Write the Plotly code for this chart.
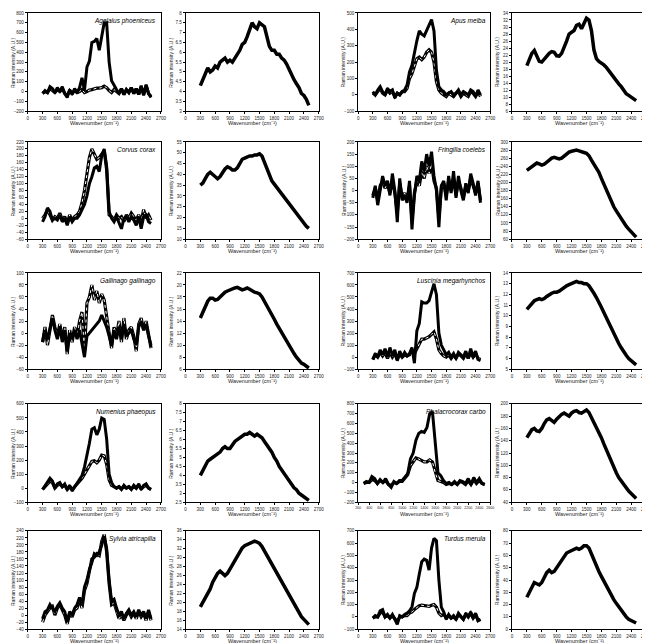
import plotly.graph_objects as go

# wavenumber grid (cm-1) shared by all spectra
WN = [300, 350, 400, 450, 500, 550, 600, 650, 700, 750, 800, 850, 900, 950, 1000,
      1050, 1100, 1150, 1200, 1250, 1300, 1350, 1400, 1450, 1500, 1550, 1600, 1650,
      1700, 1750, 1800, 1850, 1900, 1950, 2000, 2050, 2100, 2150, 2200, 2250, 2300,
      2350, 2400, 2450, 2500]

SPECIES = ["Agelaius phoeniceus", "Apus melba", "Corvus corax", "Fringilla coelebs",
           "Gallinago gallinago", "Luscinia megarhynchos", "Numenius phaeopus",
           "Phalacrocorax carbo", "Sylvia atricapilla", "Turdus merula"]

# --- Agelaius phoeniceus
ag_a = [-20, 10, -10, 50, 30, -10, 40, 0, 50, -20, -60, 20, -30, 30, -10, 40, 140, 10, 250, 310,
        500, 510, 540, 420, 560, 700, 700, 300, 110, 60, 20, -20, 30, -30, 20, -10, 40, -20, 30,
        -30, 60, -40, 70, -20, -60]
ag_b = [-20, 0, -10, 30, 10, -10, 20, 0, 30, -20, -40, 10, -20, 10, -10, 0, 20, -10, 0, 15,
        20, 30, 35, 35, 40, 55, 40, 10, -10, 20, 0, -20, 30, -30, 20, -10, 40, -20, 30, -30,
        50, -30, 60, -20, -50]
ag_bg = [4.3, 4.6, 4.9, 5.2, 5.0, 5.1, 5.3, 5.2, 5.5, 5.6, 5.7, 5.5, 5.6, 5.5, 5.7, 5.9, 6.1,
         6.4, 6.5, 6.8, 7.1, 7.5, 7.3, 7.2, 7.5, 7.4, 7.3, 6.8, 6.3, 6.1, 6.1, 5.9, 5.9, 5.7,
         5.6, 5.4, 5.1, 4.9, 4.6, 4.4, 4.2, 3.9, 3.8, 3.6, 3.3]

# --- Apus melba
ap_a = [20, 0, 30, 50, 20, 0, 40, 20, 30, -20, 10, 0, 20, 30, 60, 140, 180, 260, 330, 390,
        370, 360, 390, 430, 460, 390, 150, 50, 30, 20, 0, 10, 20, 0, 10, 30, 0, 20, 10, 0,
        30, 20, -10, 30, 0]
ap_b = [10, 0, 20, 40, 10, 0, 30, 10, 20, -10, 10, 0, 20, 20, 40, 100, 130, 170, 220, 230,
        215, 230, 260, 275, 260, 200, 80, 30, 10, 0, -10, 10, 0, -10, 10, 20, -10, 10, 0,
        -10, 20, 10, -10, 20, -10]
ap_bg = [19, 20.5, 22.5, 23.3, 21.5, 20.2, 20, 20.8, 21.8, 22.5, 23, 22.8, 21.8, 21.7, 22.5,
         24, 26, 28, 28.5, 29, 30.5, 30.8, 29.5, 31, 32.5, 32, 29, 23.5, 21, 20.2, 19.8, 19.2,
         18.5, 17.5, 16.5, 15.5, 14.5, 13.8, 13, 12, 11, 10.5, 10, 9.5, 9]

# --- Corvus corax
co_a = [0, 10, 25, 10, -5, 5, 0, 15, -5, 5, -15, 10, -5, 5, 10, 20, 45, 80, 130, 175, 200,
        185, 170, 175, 185, 195, 140, 10, 5, -5, 10, 0, 5, -10, 10, 0, 15, 5, -5, 10, -10, 25,
        0, 10, -5]
co_b = [-10, 5, 30, 20, -5, 0, -5, 10, -10, 0, -20, 5, -10, 0, 0, 10, 25, 40, 65, 100, 120,
        145, 150, 135, 180, 200, 150, 20, 0, -10, 5, -15, -30, 0, 5, -10, 5, -5, -20, 5, -30,
        5, 10, -10, -15]
co_bg = [35, 36, 38, 40, 41, 40, 38.5, 38, 39, 41, 42.5, 43.5, 43, 42, 42, 43, 45, 47, 47.5,
         48, 48.5, 48.5, 49, 49, 49.5, 48.5, 45.5, 42, 39, 37, 35.5, 34, 32.5, 31, 29.5, 28,
         26.5, 25, 23, 21.5, 20, 18.5, 17, 16, 15]

# --- Fringilla coelebs
fr_a = [-30, 20, -60, 10, 60, 20, 40, -20, 70, 0, -130, 50, -40, -20, -50, 40, -160, -20, 60,
        40, 120, 80, 150, 100, 160, 60, 0, -150, 20, 40, -40, 60, -10, 80, -30, 60, 0, -40,
        30, -10, 70, 30, -20, 40, -50]
fr_b = [-20, 10, -40, 20, 40, 10, 30, -10, 40, -10, -90, 30, -30, -10, -40, 20, -120, -10,
        40, 20, 80, 50, 100, 70, 110, 40, 10, -110, 10, 30, -20, 40, 0, 50, -20, 40, 10, -30,
        20, 0, 50, 20, -10, 30, -40]
fr_bg = [230, 235, 240, 245, 248, 246, 243, 245, 250, 255, 260, 262, 260, 258, 260, 265, 270,
         275, 277, 278, 280, 278, 275, 274, 272, 266, 255, 245, 235, 225, 210, 195, 180, 165,
         150, 140, 130, 120, 110, 100, 92, 85, 78, 72, 65]

# --- Gallinago gallinago
ga_a = [-15, 10, -20, 5, 30, 10, -5, 15, -10, 10, -35, 5, -15, 10, -5, 20, 35, -30, 50, 60,
        80, 55, 70, 50, 65, 55, 25, 0, -25, 10, -5, 20, -15, 25, -10, 5, 10, -5, -30, 15, 25,
        5, 20, -5, -25]
ga_b = [-15, 5, -10, 10, 25, 5, -10, 10, -15, 5, -30, 0, -10, 5, -10, 5, -15, -40, -5, 0, 5,
        10, 15, 20, 30, 20, 10, -5, -20, 5, -10, 10, -10, 15, -5, 0, 5, -10, -20, 10, 20, 5,
        15, -5, -20]
ga_bg = [14.5, 15.5, 16.5, 17.3, 17.8, 17.8, 17.5, 17.6, 18.0, 18.5, 18.8, 19.0, 19.2, 19.3,
         19.5, 19.6, 19.4, 19.2, 19.3, 19.5, 19.3, 19.0, 18.8, 18.7, 18.5, 18.0, 17.3, 16.5,
         15.8, 15.0, 14.3, 13.5, 12.8, 12.0, 11.3, 10.5, 9.8, 9.2, 8.6, 8.0, 7.5, 7.0, 6.8,
         6.5, 6.2]

# --- Luscinia megarhynchos
lu_a = [-20, 30, 0, 60, 20, 70, 0, 80, 10, 60, -30, 50, 0, 40, 10, 30, 80, -50, 220, 280,
        460, 450, 450, 470, 540, 610, 520, 200, 100, 60, 20, 40, 0, 30, -10, 40, 20, 0, 50,
        -10, 70, 0, 50, -20, -30]
lu_b = [-20, 20, 0, 40, 10, 40, -10, 40, 0, 30, -20, 30, 0, 20, 10, 20, 60, 30, 70, 110,
        150, 150, 160, 170, 190, 210, 150, 60, 30, 10, 0, 20, -10, 20, -10, 30, 10, -10, 30,
        -10, 40, 0, 30, -10, -20]
lu_bg = [10.6, 10.9, 11.2, 11.4, 11.5, 11.6, 11.5, 11.6, 11.8, 12.0, 12.1, 12.2, 12.2, 12.3,
         12.5, 12.7, 12.8, 12.9, 13.0, 13.1, 13.2, 13.1, 13.1, 13.0, 13.0, 12.8, 12.5, 12.1,
         11.7, 11.3, 10.8, 10.3, 9.8, 9.3, 8.8, 8.3, 7.8, 7.4, 7.0, 6.6, 6.3, 6.0, 5.8, 5.6,
         5.4]

# --- Numenius phaeopus
nu_a = [-10, 20, 40, 70, 50, 0, 30, 40, 10, 30, -10, 20, -20, 10, 30, 60, 90, 150, 230, 320,
        420, 430, 380, 420, 500, 490, 350, 100, 40, 10, 0, 10, -10, 20, 0, 10, -10, 20, 0, 30,
        -10, 20, 30, 0, -10]
nu_b = [-10, 10, 30, 50, 40, 0, 20, 30, 10, 20, -10, 10, -10, 10, 30, 50, 70, 100, 130, 160,
        190, 195, 180, 200, 235, 230, 170, 60, 20, 10, 0, 10, -5, 10, 0, 10, -5, 10, 0, 20,
        -5, 10, 20, 0, -10]
nu_bg = [4.0, 4.3, 4.6, 4.8, 4.9, 5.0, 5.1, 5.2, 5.3, 5.5, 5.6, 5.5, 5.5, 5.7, 5.9, 6.0,
         6.1, 6.2, 6.3, 6.3, 6.4, 6.3, 6.2, 6.3, 6.2, 6.1, 5.9, 5.7, 5.5, 5.3, 5.0, 4.8, 4.5,
         4.3, 4.1, 3.9, 3.7, 3.5, 3.3, 3.2, 3.0, 2.9, 2.8, 2.7, 2.6]

# --- Phalacrocorax carbo
ph_a = [-10, 10, 0, 60, 40, -10, 30, 0, 40, -20, -50, 10, -10, 20, 20, 60, 90, 240, 300,
        430, 500, 520, 510, 560, 700, 720, 420, 100, 70, 20, -10, 0, -20, 10, -20, 20, 10,
        -10, 40, -20, 50, 0, 40, -10, -20]
ph_b = [-10, 0, 0, 30, 20, -10, 20, 0, 20, -20, -30, 0, -10, 10, 10, 40, 80, 170, 210, 250,
        240, 220, 210, 210, 230, 210, 100, 20, 10, 0, -20, -10, -20, 0, -20, 10, 0, -20, 20,
        -20, 30, -10, 20, -10, -20]
ph_bg = [145, 152, 158, 160, 156, 155, 160, 168, 174, 176, 172, 170, 175, 180, 183, 185, 183,
         180, 185, 188, 189, 186, 185, 188, 190, 186, 178, 170, 162, 155, 145, 135, 125, 115,
         105, 95, 88, 80, 74, 68, 63, 58, 54, 50, 46]

# --- Sylvia atricapilla
sy_a = [-10, 10, 15, 30, 20, 10, 25, 35, 20, 10, -20, 10, 0, 20, 30, 50, 30, 80, 100, 130,
        150, 175, 170, 180, 200, 225, 190, 100, 40, 45, 20, 0, 10, -10, 5, 15, 0, 10, -5, 15,
        0, 10, -10, 15, -10]
sy_b = [-20, 0, 10, 20, 25, 0, 20, 30, 15, 0, -25, 5, -5, 15, 20, 45, 20, 70, 90, 120, 160,
        165, 175, 170, 210, 230, 180, 90, 30, 35, 10, -10, 0, -15, 0, 10, -5, 5, -10, 10, -5,
        5, -15, 10, -15]
sy_bg = [19, 20, 21, 22, 23, 24.5, 25.5, 26.5, 27, 26.5, 26, 26.5, 27.5, 28.5, 29.5, 30.5,
         31.5, 32.2, 32.7, 33, 33.2, 33.5, 33.7, 33.5, 33.2, 32.5, 31.5, 30.5, 29.5, 28.5,
         27.5, 26.5, 25.5, 24.5, 23.5, 22.5, 21.5, 20.5, 19.5, 18.5, 17.5, 16.8, 16.2, 15.5, 15]

# --- Turdus merula
tu_a = [-10, 10, 0, 50, 60, 0, 20, -10, 20, -20, -60, 10, 0, 20, 30, 50, 80, 190, 240, 350,
        450, 470, 460, 380, 560, 640, 620, 300, 80, 40, -20, 20, -10, 10, -20, 30, 0, -20, 30,
        0, 40, -10, 30, -30, -20]
tu_b = [-10, 0, 0, 30, 40, 0, 10, -10, 10, -20, -40, 0, 0, 10, 10, 30, 40, 60, 75, 90, 95,
        90, 85, 85, 95, 100, 80, 30, 10, 20, -10, 10, -10, 0, -20, 20, 0, -20, 20, 0, 30, -10,
        20, -30, -20]
tu_bg = [26, 30, 34, 38, 37, 36, 38, 42, 46, 48, 46, 47, 50, 54, 57, 60, 62, 63, 64, 65, 66,
         65, 66, 68, 68, 66, 61, 56, 51, 47, 43, 39, 35, 31, 27, 24, 21, 18, 15, 13, 10, 8, 7,
         6, 5]

# difference spectra (left panel of each pair) and backgrounds (right panel)
DIFF = [(ag_a, ag_b), (ap_a, ap_b), (co_b, co_a), (fr_a, fr_b), (ga_b, ga_a),
        (lu_a, lu_b), (nu_a, nu_b), (ph_a, ph_b), (sy_a, sy_b), (tu_a, tu_b)]
BACK = [ag_bg, ap_bg, co_bg, fr_bg, ga_bg, lu_bg, nu_bg, ph_bg, sy_bg, tu_bg]

# y axis (min, max, step) for each panel
Y_DIFF = [(-200, 800, 100), (-100, 500, 100), (-60, 220, 20), (-200, 200, 50),
          (-60, 100, 20), (-100, 700, 100), (-100, 600, 100), (-200, 800, 100),
          (-40, 240, 20), (-100, 700, 100)]
Y_BACK = [(3, 8, 0.5), (6, 34, 2), (10, 55, 5), (60, 300, 20), (6, 22, 2),
          (5, 14, 1), (2.5, 8, 0.5), (40, 200, 20), (14, 36, 2), (0, 80, 10)]

W, H = 650, 643
COLS = [(17, 152), (177, 312), (352, 486), (508, 644)]
ROWS = [(3, 102), (133, 231), (265, 362), (397, 496), (525, 624)]
FONT = "Liberation Sans"

fig = go.Figure()
layout = {}
notes = []


def add_axes(n, col, row, yr, xr=(0, 2700, 300), xfont=4.5):
    x0, x1 = COLS[col]
    y0, y1 = ROWS[row]
    sfx = "" if n == 1 else str(n)
    common = dict(showline=True, linecolor="black", linewidth=1, mirror=True,
                  ticks="outside", ticklen=2, tickwidth=0.8, tickcolor="black",
                  showgrid=False, zeroline=False, tickangle=0)
    layout["xaxis" + sfx] = dict(
        domain=[x0 / W, x1 / W], anchor="y" + sfx, range=[xr[0], xr[1]], dtick=xr[2],
        tick0=xr[0], tickfont=dict(size=xfont, family=FONT, color="#222"), **common)
    layout["yaxis" + sfx] = dict(
        domain=[1 - y1 / H, 1 - y0 / H], anchor="x" + sfx, range=[yr[0], yr[1]],
        dtick=yr[2], tick0=yr[0], tickfont=dict(size=4.5, family=FONT, color="#222"),
        **common)
    # axis titles placed just outside the tick labels
    notes.append(dict(text="Wavenumber (cm\u207b\u00b9)", xref="paper", yref="paper",
                      x=(x0 + x1) / 2 / W, y=1 - (y1 + 12) / H, showarrow=False,
                      xanchor="center", yanchor="middle",
                      font=dict(size=5.5, family=FONT, color="#222")))
    notes.append(dict(text="Raman intensity (A.U.)", xref="paper", yref="paper",
                      x=(x0 - 15) / W, y=1 - (y0 + y1) / 2 / H, showarrow=False,
                      textangle=-90, xanchor="center", yanchor="middle",
                      font=dict(size=5, family=FONT, color="#222")))


n = 0
for i, name in enumerate(SPECIES):
    row = i // 2
    col = (i % 2) * 2
    # difference spectra
    n += 1
    sfx = "" if n == 1 else str(n)
    if name == "Phalacrocorax carbo":
        add_axes(n, col, row, Y_DIFF[i], (200, 2600, 200), xfont=3.6)
    else:
        add_axes(n, col, row, Y_DIFF[i])
    main, second = DIFF[i]
    # second spectrum: thick dark line with white dotted core
    fig.add_trace(go.Scatter(x=WN, y=second, mode="lines", xaxis="x" + sfx, yaxis="y" + sfx,
                             line=dict(color="black", width=3.2), showlegend=False))
    fig.add_trace(go.Scatter(x=WN, y=second, mode="lines", xaxis="x" + sfx, yaxis="y" + sfx,
                             line=dict(color="white", width=1, dash="dot"), showlegend=False))
    fig.add_trace(go.Scatter(x=WN, y=main, mode="lines", xaxis="x" + sfx, yaxis="y" + sfx,
                             line=dict(color="black", width=3), showlegend=False))
    notes.append(dict(text="<i>" + name + "</i>", xref="x" + sfx + " domain",
                      yref="y" + sfx + " domain", x=0.98, y=0.98, xanchor="right",
                      yanchor="top", showarrow=False,
                      font=dict(size=6.5, family=FONT, color="black")))
    # background spectrum
    n += 1
    sfx = str(n)
    add_axes(n, col + 1, row, Y_BACK[i])
    fig.add_trace(go.Scatter(x=WN, y=BACK[i], mode="lines", xaxis="x" + sfx, yaxis="y" + sfx,
                             line=dict(color="black", width=3.5), showlegend=False))

fig.update_layout(**layout)
fig.update_layout(width=W, height=H, margin=dict(l=0, r=0, t=0, b=0),
                  paper_bgcolor="white", plot_bgcolor="white", showlegend=False,
                  annotations=notes)

fig.write_html("out.html")
